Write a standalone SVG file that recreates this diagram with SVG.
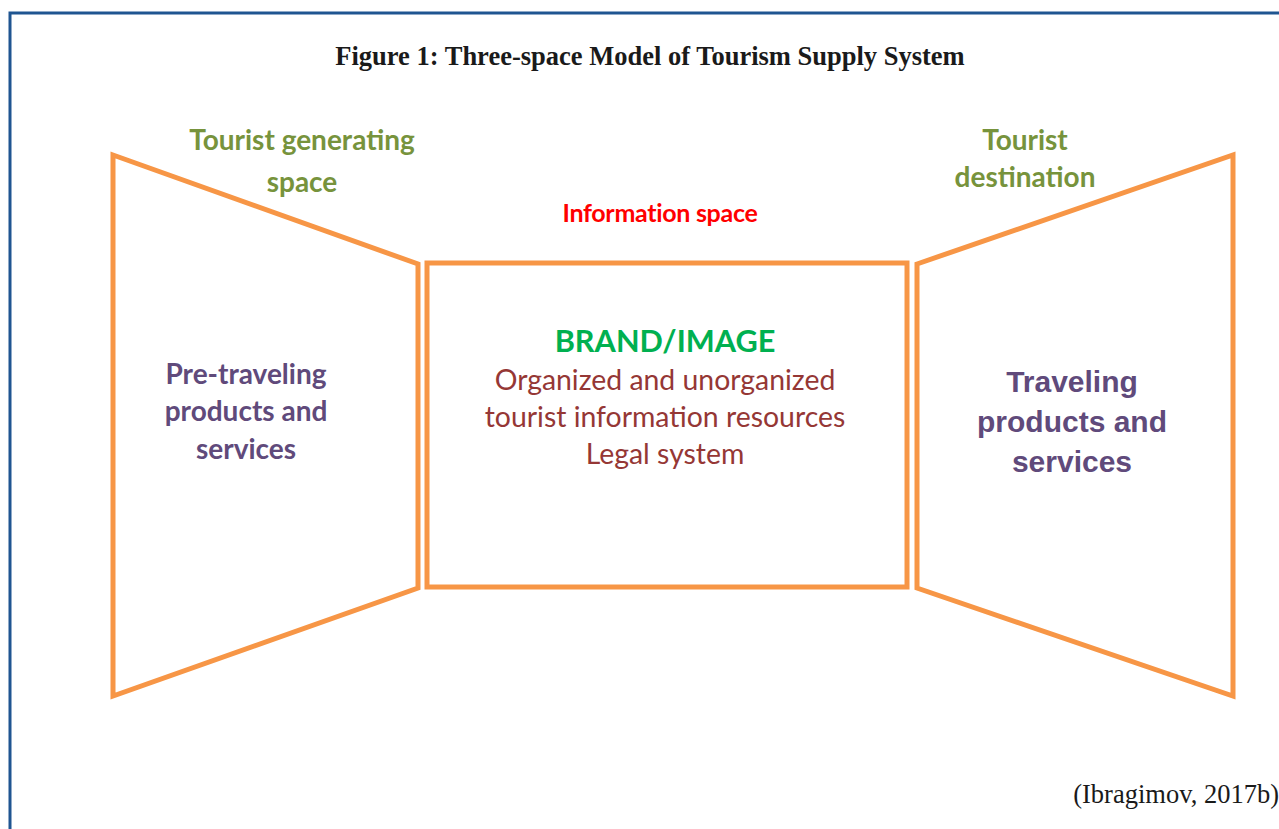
<svg xmlns="http://www.w3.org/2000/svg" width="1279" height="829" viewBox="0 0 1279 829">
<style>
.frame{fill:none;stroke:#1F5591;stroke-width:3}
.shape{fill:none;stroke:#F79646;stroke-width:5;stroke-linejoin:miter}
.title{font-family:"Liberation Serif",serif;font-weight:bold;font-size:26.5px;fill:#1a1a1a;text-anchor:middle}
.cite{font-family:"Liberation Serif",serif;font-size:26.5px;fill:#1a1a1a;text-anchor:end}
.space{font-family:"Lato","Open Sans",sans-serif;font-weight:bold;font-size:28px;fill:#77933C;text-anchor:middle}
.info{font-family:"Lato","Open Sans",sans-serif;font-weight:bold;font-size:25px;fill:#FF0000;text-anchor:middle;letter-spacing:-0.3px}
.brand{font-family:"Lato","Open Sans",sans-serif;font-weight:bold;font-size:30.7px;fill:#00B050;text-anchor:middle}
.res{font-family:"Lato","Open Sans",sans-serif;font-size:28.4px;fill:#953735;text-anchor:middle}
.pre{font-family:"Lato","Open Sans",sans-serif;font-weight:bold;font-size:28px;fill:#604A7B;text-anchor:middle}
.trav{font-family:"Liberation Sans",Arial,sans-serif;font-weight:bold;font-size:30px;fill:#604A7B;text-anchor:middle}
</style>
<rect width="1279" height="829" fill="#ffffff"/>
<rect class="frame" x="10" y="13" width="1290" height="830"/>
<text class="title" x="650" y="65">Figure 1: Three-space Model of Tourism Supply System</text>
<g id="generating">
<polygon class="shape" points="113,155 418,264 418,588 113,696"/>
<text class="space" x="302" y="150">Tourist generating</text>
<text class="space" x="302" y="192">space</text>
<text class="pre" x="246" y="384">Pre-traveling</text>
<text class="pre" x="246" y="421">products and</text>
<text class="pre" x="246" y="459">services</text>
</g>
<g id="information">
<rect class="shape" x="427" y="263" width="480" height="324"/>
<text class="info" x="660" y="222">Information space</text>
<text class="brand" x="665" y="352">BRAND/IMAGE</text>
<text class="res" x="665" y="390">Organized and unorganized</text>
<text class="res" x="665" y="427">tourist information resources</text>
<text class="res" x="665" y="464">Legal system</text>
</g>
<g id="destination">
<polygon class="shape" points="917,264 1233,155 1233,696 917,588"/>
<text class="space" x="1025" y="150">Tourist</text>
<text class="space" x="1025" y="187">destination</text>
<text class="trav" x="1072" y="392">Traveling</text>
<text class="trav" x="1072" y="432">products and</text>
<text class="trav" x="1072" y="472">services</text>
</g>
<g id="connectors"></g>
<text class="cite" x="1279" y="803">(Ibragimov, 2017b)</text>
</svg>
